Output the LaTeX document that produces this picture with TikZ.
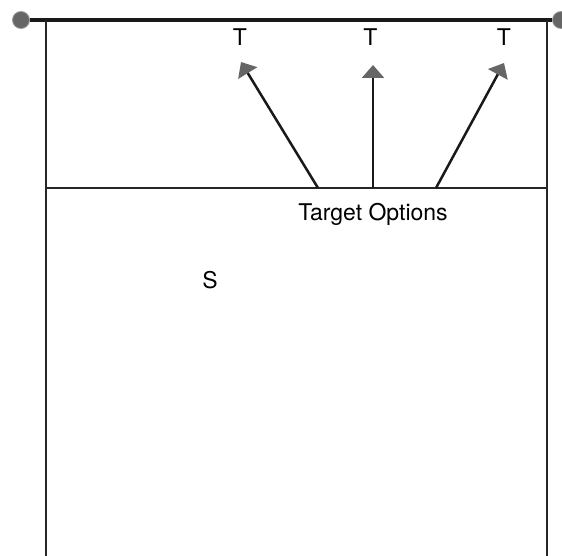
\documentclass[tikz,border=0pt]{standalone}
\usepackage{fontspec}
\setmainfont{TeX Gyre Heros}
\usetikzlibrary{arrows.meta}

\begin{document}
\begin{tikzpicture}[x=1pt,y=1pt,
wall/.style={line width=1.4pt,black!85},
rail/.style={line width=3.5pt,black!90},
knob/.style={circle,fill=black!60,draw=black!40,line width=0.8pt,minimum size=17pt,inner sep=0pt},
choice/.style={line width=2.5pt,black!90,-{Triangle[length=13pt,width=22pt,fill=black!60,color=black!60]}},
lbl/.style={font=\fontsize{23}{26}\selectfont,inner sep=0pt}]
\useasboundingbox (0,0) rectangle (562,-556);
% top rail with end knobs
\node[knob] (kl) at (21,-20) {};
\node[knob] (kr) at (561,-20) {};
\draw[rail] (kl) -- (kr);
% walls
\coordinate (wl) at (46,-20);
\coordinate (wr) at (547,-20);
\coordinate (bl) at (46,-556);
\coordinate (br) at (547,-556);
\coordinate (ml) at (46,-188);
\coordinate (mr) at (547,-188);
\draw[wall] (wl) -- (bl);
\draw[wall] (wr) -- (br);
\draw[wall] (ml) -- (mr);
% labels
\node[lbl] (t1) at (240,-37) {T};
\node[lbl] (t2) at (370.5,-37) {T};
\node[lbl] (t3) at (504,-37) {T};
\node[lbl] (opts) at (373,-214) {Target Options};
\node[lbl] (s) at (210,-280) {S};
% target arrows
\coordinate (a1) at (318,-188);
\coordinate (a2) at (373,-188);
\coordinate (a3) at (436,-188);
\coordinate (e1) at (241,-62);
\coordinate (e2) at (373,-65);
\coordinate (e3) at (504,-63);
\draw[choice] (a1) -- (e1);
\draw[choice] (a2) -- (e2);
\draw[choice] (a3) -- (e3);
\end{tikzpicture}
\end{document}
